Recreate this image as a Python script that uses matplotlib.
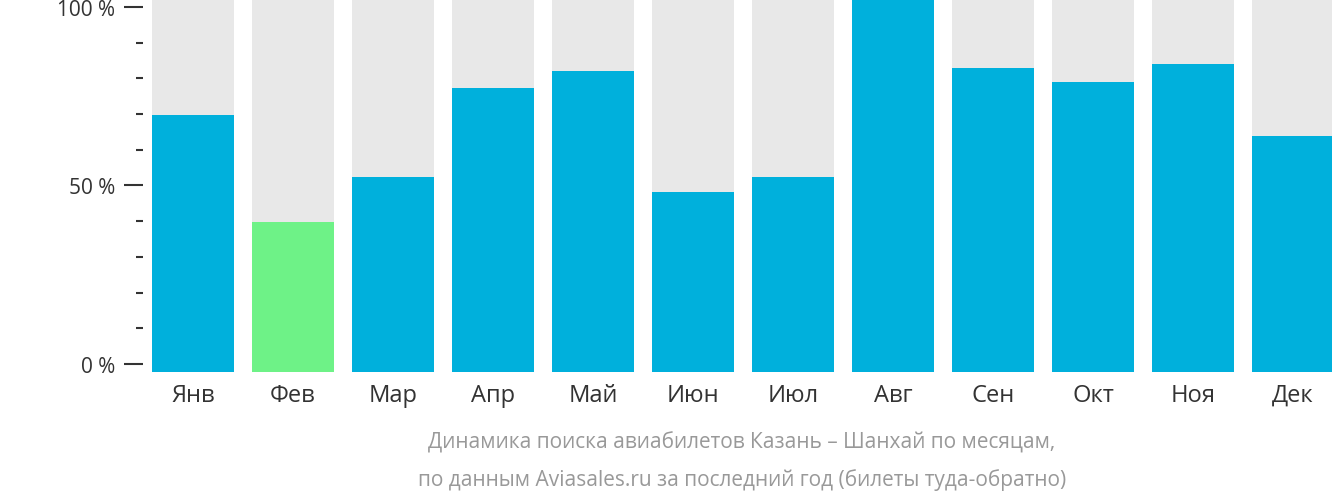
import matplotlib
matplotlib.use("Agg")
import matplotlib.pyplot as plt
from matplotlib.ticker import MultipleLocator

months = ["Янв","Фев","Мар","Апр","Май","Июн","Июл","Авг","Сен","Окт","Ноя","Дек"]
values = [69.7, 39.8, 52.4, 77.3, 82.0, 48.2, 52.4, 102.2, 82.9, 79.0, 84.0, 63.9]
highlight = [False, True] + [False]*10
ytick_vals = [0, 50, 100]
ytick_labels = ["0 %", "50 %", "100 %"]

plt.rcParams["font.family"] = "Open Sans"
W, H = 1332, 502
fig = plt.figure(figsize=(W/100, H/100), dpi=100)
ax = fig.add_axes([143/W, (H-373)/H, (W-143)/W, 373/H])
lo, hi = -2.24, 102.2
ax.set_ylim(lo, hi)
ax.set_xlim(-0.5, 11.39)
x = range(len(months))
ax.bar(x, [hi-lo]*12, bottom=lo, width=0.82, color="#e8e8e8")
ax.bar(x, [v-lo for v in values], bottom=lo, width=0.82,
       color=["#6ef287" if h else "#00b0dc" for h in highlight])
for s in ax.spines.values():
    s.set_visible(False)
ax.set_yticks(ytick_vals)
ax.set_yticklabels(ytick_labels, fontsize=15, color="#333333")
ax.yaxis.set_minor_locator(MultipleLocator(10))
ax.tick_params(axis="y", which="major", length=14, width=1.5, color="#333333", pad=6)
ax.tick_params(axis="y", which="minor", length=5, width=1.5, color="#333333")
ax.set_xticks(list(x))
ax.set_xticklabels(months, fontsize=17, color="#333333")
ax.tick_params(axis="x", length=0, pad=8)
fig.text(742/W, 1-443/H, "Динамика поиска авиабилетов Казань – Шанхай по месяцам,",
         ha="center", va="center", fontsize=15, color="#999999")
fig.text(742/W, 1-480/H, "по данным Aviasales.ru за последний год (билеты туда-обратно)",
         ha="center", va="center", fontsize=15, color="#999999")
fig.savefig("out.png", dpi=100)
